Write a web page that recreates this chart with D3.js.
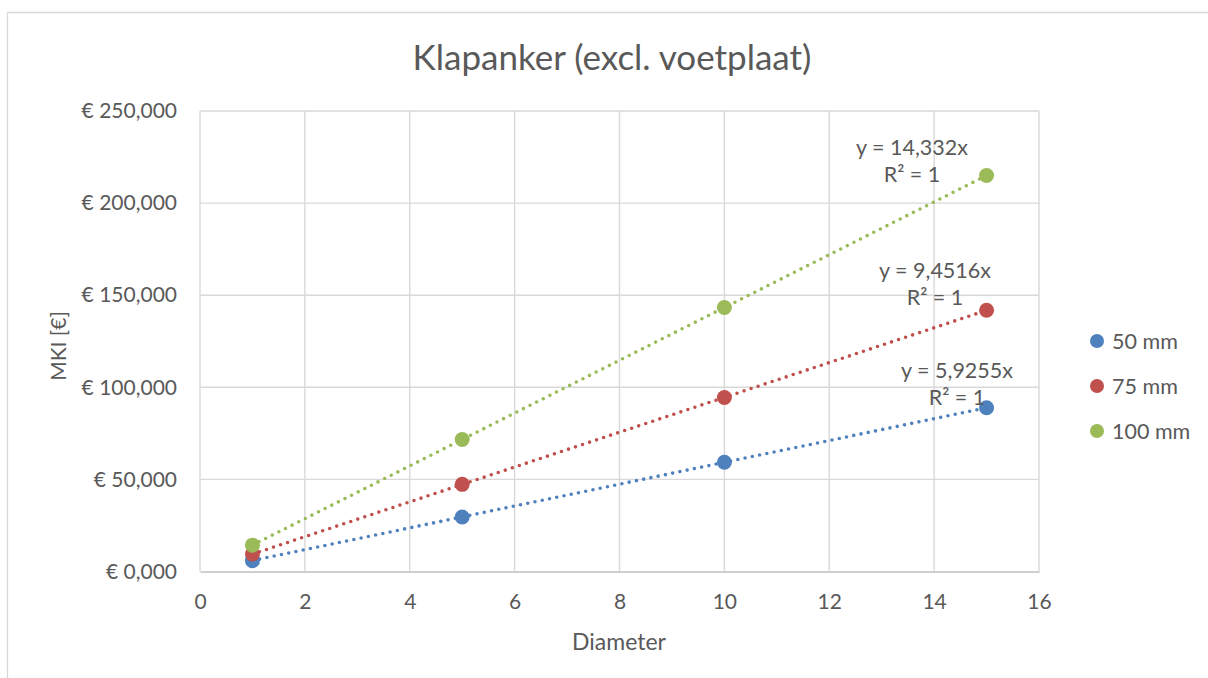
<!DOCTYPE html>
<html>
<head>
<meta charset="utf-8">
<script src="https://cdn.jsdelivr.net/npm/d3@7"></script>
<style>
  html, body { margin: 0; padding: 0; background: #fff; }
  svg { display: block; font-family: Lato, "Open Sans", sans-serif; }
</style>
</head>
<body>
<svg id="chart" width="1208" height="678"></svg>
<script>
// Diameter values on the x axis
const diameters = [1, 5, 10, 15];

// Cost (MKI, €) per series
const seriesNames = ["50 mm", "75 mm", "100 mm"];
const values50 = [5.9, 29.6, 59.3, 88.9];
const values75 = [9.5, 47.3, 94.5, 141.8];
const values100 = [14.3, 71.7, 143.3, 215.0];

// Linear trendline slopes (through origin) and R²
const slopes = [5.9255, 9.4516, 14.332];
const rSquared = [1, 1, 1];

// Axis ticks
const xTicks = [0, 2, 4, 6, 8, 10, 12, 14, 16];
const yTicks = [0, 50, 100, 150, 200, 250];

const titleText = "Klapanker (excl. voetplaat)";
const xTitle = "Diameter";
const yTitle = "MKI [€]";

const colors = ["#4f81bd", "#c0504d", "#9bbb59"];
const textColor = "#595959";

const seriesValues = [values50, values75, values100];

const nl = d3.formatLocale({ decimal: ",", thousands: ".", grouping: [3], currency: ["€ ", ""] });
const fmtY = nl.format("$.3f");
const fmtSlope = nl.format(".5r");

const svg = d3.select("#chart");

// chart frame (top and left edges)
svg.append("line").attr("x1", 7.5).attr("x2", 1208).attr("y1", 12.5).attr("y2", 12.5)
  .attr("stroke", "#d9d9d9").attr("stroke-width", 1.3);
svg.append("line").attr("x1", 7.5).attr("x2", 7.5).attr("y1", 12.5).attr("y2", 678)
  .attr("stroke", "#d9d9d9").attr("stroke-width", 1.3);

const x = d3.scaleLinear().domain([0, 16]).range([200, 1039]);
const y = d3.scaleLinear().domain([0, 250]).range([571.5, 111]);

// gridlines
const grid = svg.append("g");
grid.selectAll("line.h").data(yTicks.filter(d => d > 0)).join("line")
  .attr("x1", x(0)).attr("x2", x(16))
  .attr("y1", d => y(d)).attr("y2", d => y(d))
  .attr("stroke", "#d9d9d9").attr("stroke-width", 1.4);
grid.selectAll("line.v").data(xTicks).join("line")
  .attr("x1", d => x(d)).attr("x2", d => x(d))
  .attr("y1", y(0)).attr("y2", y(250))
  .attr("stroke", "#d9d9d9").attr("stroke-width", 1.4);

// x axis
const xAxis = svg.append("g").attr("transform", `translate(0,${y(0)})`)
  .call(d3.axisBottom(x).tickValues(xTicks).tickSize(0).tickPadding(23).tickFormat(d => d));
xAxis.select(".domain").attr("stroke", "#bfbfbf").attr("stroke-width", 1.6);
xAxis.selectAll("text").attr("fill", textColor).attr("font-size", 21).attr("font-family", "Lato, sans-serif");

// y axis
const yAxis = svg.append("g").attr("transform", `translate(${x(0)},0)`)
  .call(d3.axisLeft(y).tickValues(yTicks).tickSize(0).tickPadding(23).tickFormat(fmtY));
yAxis.select(".domain").remove();
yAxis.selectAll("text").attr("fill", textColor).attr("font-size", 21).attr("font-family", "Lato, sans-serif");

// trendlines
seriesValues.forEach((vals, i) => {
  const x0 = d3.min(diameters), x1 = d3.max(diameters);
  svg.append("line")
    .attr("x1", x(x0)).attr("y1", y(slopes[i] * x0))
    .attr("x2", x(x1)).attr("y2", y(slopes[i] * x1))
    .attr("stroke", colors[i]).attr("stroke-width", 3.6)
    .attr("stroke-linecap", "round").attr("stroke-dasharray", "0 7.4");
});

// data markers
seriesValues.forEach((vals, i) => {
  svg.append("g").selectAll("circle").data(vals.map((v, j) => [diameters[j], v])).join("circle")
    .attr("cx", d => x(d[0])).attr("cy", d => y(d[1])).attr("r", 7.5)
    .attr("fill", colors[i]);
});

// trendline equations
const eqCenters = [[957, 370], [935, 270], [912, 147]];
seriesValues.forEach((vals, i) => {
  const g = svg.append("g").attr("fill", textColor).attr("font-size", 21.5).attr("text-anchor", "middle");
  g.append("text").attr("x", eqCenters[i][0]).attr("y", eqCenters[i][1]).attr("dy", "0.35em")
    .text(`y = ${fmtSlope(slopes[i])}x`);
  g.append("text").attr("x", eqCenters[i][0]).attr("y", eqCenters[i][1] + 27.5).attr("dy", "0.35em")
    .text(`R² = ${rSquared[i]}`);
});

// title
svg.append("text").attr("x", 612).attr("y", 58).attr("dy", "0.35em")
  .attr("text-anchor", "middle").attr("fill", textColor).attr("font-size", 35)
  .text(titleText);

// axis titles
svg.append("text").attr("x", 619).attr("y", 642).attr("dy", "0.35em")
  .attr("text-anchor", "middle").attr("fill", textColor).attr("font-size", 23)
  .text(xTitle);
svg.append("text").attr("transform", "translate(59,346) rotate(-90)").attr("dy", "0.35em")
  .attr("text-anchor", "middle").attr("fill", textColor).attr("font-size", 21)
  .text(yTitle);

// legend
const legend = svg.append("g");
seriesNames.forEach((name, i) => {
  const ly = 341 + i * 45;
  legend.append("circle").attr("cx", 1097).attr("cy", ly).attr("r", 7).attr("fill", colors[i]);
  legend.append("text").attr("x", 1112).attr("y", ly).attr("dy", "0.35em")
    .attr("fill", textColor).attr("font-size", 21.5).text(name);
});
</script>
</body>
</html>
